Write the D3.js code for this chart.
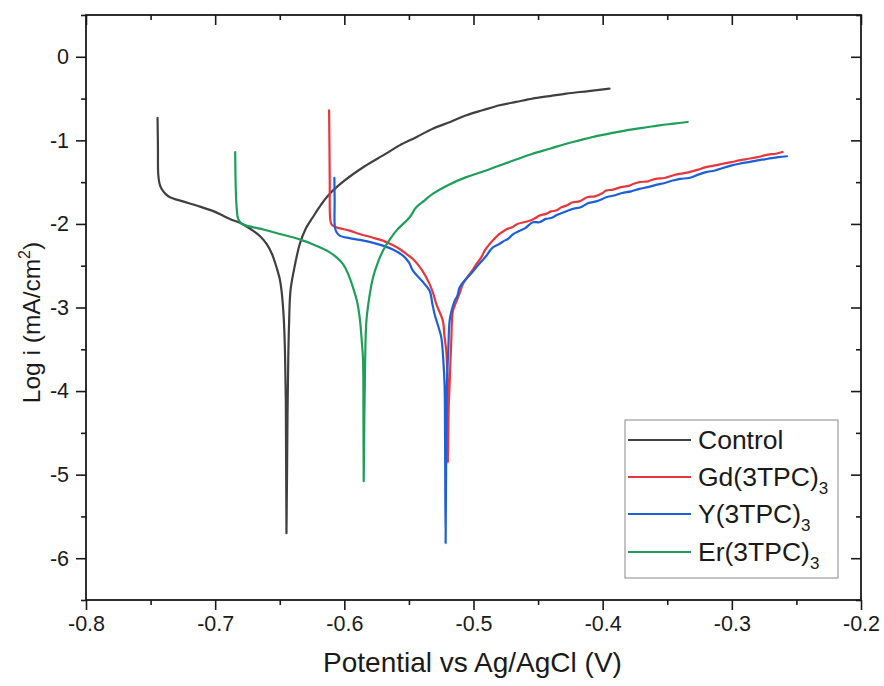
<!DOCTYPE html>
<html>
<head>
<meta charset="utf-8">
<script src="https://cdn.jsdelivr.net/npm/d3@7"></script>
<style>
  html, body { margin: 0; padding: 0; background: #fff; }
  svg { display: block; font-family: "Liberation Sans", Arial, sans-serif; }
</style>
</head>
<body>
<svg id="chart" width="884" height="686"></svg>
<script>
// ---- Data (potential V vs Ag/AgCl, log i in mA/cm^2) ----
const seriesNames = ["Control", "Gd(3TPC)3", "Y(3TPC)3", "Er(3TPC)3"];
const seriesColors = ["#404040", "#e8373c", "#1d5fd8", "#1f9e5a"];

const controlData = [
  [-0.7446,-0.73],[-0.7443,-1.10],[-0.7441,-1.40],[-0.7432,-1.51],[-0.7415,-1.58],[-0.7385,-1.64],
  [-0.7350,-1.68],[-0.7250,-1.73],[-0.7144,-1.78],[-0.7010,-1.85],[-0.6886,-1.94],[-0.6790,-2.00],
  [-0.6708,-2.08],[-0.6650,-2.15],[-0.6602,-2.24],[-0.6560,-2.36],[-0.6525,-2.52],[-0.6500,-2.66],
  [-0.6486,-2.80],[-0.6470,-3.10],[-0.6460,-3.50],[-0.6453,-4.12],[-0.6448,-5.70],[-0.6440,-4.30],
  [-0.6434,-3.60],[-0.6428,-3.20],[-0.6417,-2.80],[-0.6390,-2.55],[-0.6345,-2.24],[-0.6300,-2.06],
  [-0.6244,-1.92],[-0.6180,-1.77],[-0.6113,-1.64],[-0.5997,-1.48],[-0.5842,-1.31],[-0.5700,-1.18],
  [-0.5572,-1.06],[-0.5440,-0.96],[-0.5316,-0.86],[-0.5180,-0.78],[-0.5056,-0.70],[-0.4930,-0.64],
  [-0.4798,-0.58],[-0.4670,-0.54],[-0.4543,-0.50],[-0.4410,-0.47],[-0.4282,-0.44],[-0.4110,-0.41],
  [-0.3947,-0.38]
];

const gdData = [
  [-0.6118,-0.64],[-0.6115,-1.10],[-0.6113,-1.48],[-0.6108,-1.96],[-0.6097,-2.01],[-0.6061,-2.04],
  [-0.5960,-2.08],[-0.5881,-2.12],[-0.5790,-2.16],[-0.5701,-2.20],[-0.5630,-2.25],[-0.5572,-2.30],
  [-0.5510,-2.37],[-0.5469,-2.42],[-0.5400,-2.55],[-0.5340,-2.72],[-0.5310,-2.84],[-0.5288,-2.96],
  [-0.5237,-3.16],[-0.5225,-3.34],[-0.5211,-3.52],[-0.5200,-3.90],[-0.5198,-4.86],[-0.5192,-4.20],
  [-0.5185,-3.92],[-0.5172,-3.40],[-0.5159,-3.04],[-0.5130,-2.92],[-0.5105,-2.82],[-0.5082,-2.72],
  [-0.5040,-2.62],[-0.5010,-2.56],[-0.4978,-2.48],[-0.4940,-2.40],[-0.4910,-2.31],[-0.4875,-2.24],
  [-0.4840,-2.18],[-0.4798,-2.12],[-0.4740,-2.06],[-0.4700,-2.04],[-0.4660,-2.00],[-0.4610,-1.98],
  [-0.4560,-1.96],[-0.4520,-1.93],[-0.4489,-1.90],[-0.4440,-1.88],[-0.4400,-1.85],[-0.4360,-1.84],
  [-0.4320,-1.80],[-0.4280,-1.78],[-0.4231,-1.74],[-0.4180,-1.73],[-0.4120,-1.68],[-0.4060,-1.67],
  [-0.4000,-1.63],[-0.3973,-1.60],[-0.3920,-1.59],[-0.3860,-1.56],[-0.3800,-1.545],[-0.3760,-1.52],
  [-0.3715,-1.50],[-0.3650,-1.49],[-0.3590,-1.46],[-0.3520,-1.45],[-0.3458,-1.42],[-0.3400,-1.40],
  [-0.3330,-1.38],[-0.3260,-1.35],[-0.3200,-1.32],[-0.3130,-1.30],[-0.3070,-1.28],[-0.3000,-1.26],
  [-0.2942,-1.24],[-0.2870,-1.22],[-0.2800,-1.20],[-0.2720,-1.17],[-0.2660,-1.16],[-0.2607,-1.14]
];

const yData = [
  [-0.6077,-1.45],[-0.6075,-1.72],[-0.6073,-2.04],[-0.6060,-2.10],[-0.6036,-2.14],[-0.5960,-2.17],
  [-0.5881,-2.19],[-0.5790,-2.22],[-0.5701,-2.26],[-0.5620,-2.31],[-0.5546,-2.38],[-0.5500,-2.46],
  [-0.5469,-2.56],[-0.5400,-2.68],[-0.5340,-2.80],[-0.5318,-2.96],[-0.5301,-3.08],[-0.5270,-3.24],
  [-0.5249,-3.36],[-0.5235,-3.60],[-0.5224,-3.92],[-0.5220,-4.60],[-0.5216,-5.82],[-0.5211,-4.60],
  [-0.5206,-3.92],[-0.5195,-3.50],[-0.5185,-3.16],[-0.5170,-3.04],[-0.5146,-2.92],[-0.5125,-2.86],
  [-0.5108,-2.76],[-0.5070,-2.68],[-0.5040,-2.63],[-0.5010,-2.58],[-0.4978,-2.52],[-0.4940,-2.45],
  [-0.4900,-2.38],[-0.4850,-2.28],[-0.4800,-2.24],[-0.4760,-2.20],[-0.4734,-2.18],[-0.4690,-2.12],
  [-0.4640,-2.08],[-0.4600,-2.05],[-0.4541,-1.98],[-0.4489,-1.98],[-0.4440,-1.94],[-0.4400,-1.93],
  [-0.4350,-1.89],[-0.4300,-1.86],[-0.4231,-1.82],[-0.4170,-1.80],[-0.4110,-1.75],[-0.4050,-1.73],
  [-0.4000,-1.70],[-0.3973,-1.68],[-0.3910,-1.66],[-0.3850,-1.63],[-0.3780,-1.61],[-0.3715,-1.58],
  [-0.3650,-1.56],[-0.3580,-1.53],[-0.3520,-1.51],[-0.3458,-1.48],[-0.3400,-1.46],[-0.3330,-1.45],
  [-0.3260,-1.41],[-0.3200,-1.38],[-0.3130,-1.36],[-0.3070,-1.33],[-0.3000,-1.30],[-0.2942,-1.28],
  [-0.2870,-1.26],[-0.2800,-1.24],[-0.2720,-1.22],[-0.2640,-1.20],[-0.2573,-1.19]
];

const erData = [
  [-0.6845,-1.14],[-0.6840,-1.60],[-0.6832,-1.84],[-0.6822,-1.94],[-0.6793,-2.00],[-0.6757,-2.02],
  [-0.6620,-2.07],[-0.6500,-2.12],[-0.6400,-2.16],[-0.6319,-2.20],[-0.6250,-2.24],[-0.6190,-2.28],
  [-0.6113,-2.34],[-0.6060,-2.40],[-0.6010,-2.48],[-0.5970,-2.60],[-0.5933,-2.76],[-0.5900,-2.94],
  [-0.5881,-3.12],[-0.5865,-3.40],[-0.5855,-3.64],[-0.5852,-4.30],[-0.5850,-5.08],[-0.5845,-4.30],
  [-0.5839,-3.64],[-0.5829,-3.16],[-0.5805,-2.86],[-0.5778,-2.64],[-0.5740,-2.46],[-0.5701,-2.32],
  [-0.5650,-2.19],[-0.5597,-2.08],[-0.5494,-1.92],[-0.5443,-1.80],[-0.5380,-1.72],[-0.5316,-1.64],
  [-0.5190,-1.53],[-0.5056,-1.44],[-0.4920,-1.37],[-0.4798,-1.30],[-0.4670,-1.23],[-0.4543,-1.16],
  [-0.4410,-1.10],[-0.4282,-1.04],[-0.4180,-1.00],[-0.4079,-0.96],[-0.3950,-0.92],[-0.3818,-0.88],
  [-0.3690,-0.85],[-0.3561,-0.82],[-0.3450,-0.80],[-0.3342,-0.78]
];

const allSeries = [controlData, gdData, yData, erData];

const xTicks = [-0.8, -0.7, -0.6, -0.5, -0.4, -0.3, -0.2];
const xMinorTicks = [-0.75, -0.65, -0.55, -0.45, -0.35, -0.25];
const yTicks = [0, -1, -2, -3, -4, -5, -6];
const yMinorTicks = [0.5, -0.5, -1.5, -2.5, -3.5, -4.5, -5.5, -6.5];

// ---- Layout ----
const L = 86, R = 861, T = 15, B = 600;
const svg = d3.select("#chart");

const x = d3.scaleLinear().domain([-0.8, -0.2]).range([L, R]);
const y = d3.scaleLinear().domain([-6.5, 0.5]).range([B, T]);

const axisColor = "#1a1a1a";
function styleAxis(g) {
  g.select(".domain").remove();
  g.selectAll(".tick line").attr("stroke", axisColor).attr("stroke-width", 1.6);
  g.selectAll(".tick text").attr("fill", "#1a1a1a").style("font-size", "21.5px")
    .style("font-family", '"Liberation Sans", Arial, sans-serif');
}
const fmtX = d => d.toFixed(1);
const fmtY = d => String(d);

// bottom
svg.append("g").attr("transform", `translate(0,${B})`)
  .call(d3.axisBottom(x).tickValues(xTicks).tickSize(10).tickPadding(6).tickFormat(fmtX))
  .call(styleAxis);
svg.append("g").attr("transform", `translate(0,${B})`)
  .call(d3.axisBottom(x).tickValues(xMinorTicks).tickSize(5).tickFormat(""))
  .call(styleAxis);
// top (mirror, inward)
svg.append("g").attr("transform", `translate(0,${T})`)
  .call(d3.axisTop(x).tickValues(xTicks).tickSize(-10).tickFormat(""))
  .call(styleAxis);
svg.append("g").attr("transform", `translate(0,${T})`)
  .call(d3.axisTop(x).tickValues(xMinorTicks).tickSize(-5).tickFormat(""))
  .call(styleAxis);
// left
svg.append("g").attr("transform", `translate(${L},0)`)
  .call(d3.axisLeft(y).tickValues(yTicks).tickSize(10).tickPadding(7).tickFormat(fmtY))
  .call(styleAxis);
svg.append("g").attr("transform", `translate(${L},0)`)
  .call(d3.axisLeft(y).tickValues(yMinorTicks).tickSize(5).tickFormat(""))
  .call(styleAxis);
// right (mirror, inward)
svg.append("g").attr("transform", `translate(${R},0)`)
  .call(d3.axisRight(y).tickValues(yTicks).tickSize(-10).tickFormat(""))
  .call(styleAxis);
svg.append("g").attr("transform", `translate(${R},0)`)
  .call(d3.axisRight(y).tickValues(yMinorTicks).tickSize(-5).tickFormat(""))
  .call(styleAxis);

// clip
svg.append("clipPath").attr("id", "clip").append("rect")
  .attr("x", L).attr("y", T).attr("width", R - L).attr("height", B - T);

// ---- Lines ----
const line = d3.line().x(d => x(d[0])).y(d => y(d[1])).curve(d3.curveCatmullRom.alpha(0.5));
const plot = svg.append("g").attr("clip-path", "url(#clip)");
allSeries.forEach((data, i) => {
  plot.append("path")
    .datum(data)
    .attr("fill", "none")
    .attr("stroke", seriesColors[i])
    .attr("stroke-width", 2.2)
    .attr("stroke-linejoin", "round")
    .attr("stroke-linecap", "round")
    .attr("d", line);
});

// frame
svg.append("rect").attr("x", L).attr("y", T).attr("width", R - L).attr("height", B - T)
  .attr("fill", "none").attr("stroke", axisColor).attr("stroke-width", 1.8);

// ---- Axis titles ----
svg.append("text")
  .attr("x", (L + R) / 2 - 1).attr("y", 672)
  .attr("text-anchor", "middle")
  .style("font-size", "28px").attr("fill", "#1a1a1a")
  .text("Potential vs Ag/AgCl (V)");

const yt = svg.append("text")
  .attr("transform", `translate(40,${(T + B) / 2 + 15}) rotate(-90)`)
  .attr("text-anchor", "middle")
  .style("font-size", "24.5px").attr("fill", "#1a1a1a");
yt.append("tspan").text("Log i (mA/cm");
yt.append("tspan").attr("dy", -10).style("font-size", "16px").text("2");
yt.append("tspan").attr("dy", 10).text(")");

// ---- Legend ----
const lg = svg.append("g");
lg.append("rect").attr("x", 625).attr("y", 420).attr("width", 213).attr("height", 158)
  .attr("fill", "#fff").attr("stroke", "#8a8a8a").attr("stroke-width", 1);
const rowY = [440, 477, 514, 552];
const legendLabels = [["Control", ""], ["Gd(3TPC)", "3"], ["Y(3TPC)", "3"], ["Er(3TPC)", "3"]];
legendLabels.forEach((lab, i) => {
  lg.append("line").attr("x1", 628).attr("x2", 691).attr("y1", rowY[i]).attr("y2", rowY[i])
    .attr("stroke", seriesColors[i]).attr("stroke-width", 2.2);
  const t = lg.append("text").attr("x", 698).attr("y", rowY[i] + 9)
    .style("font-size", "26.5px").attr("fill", "#1a1a1a");
  t.append("tspan").text(lab[0]);
  if (lab[1]) t.append("tspan").attr("dy", 8).style("font-size", "17px").text(lab[1]);
});
</script>
</body>
</html>
